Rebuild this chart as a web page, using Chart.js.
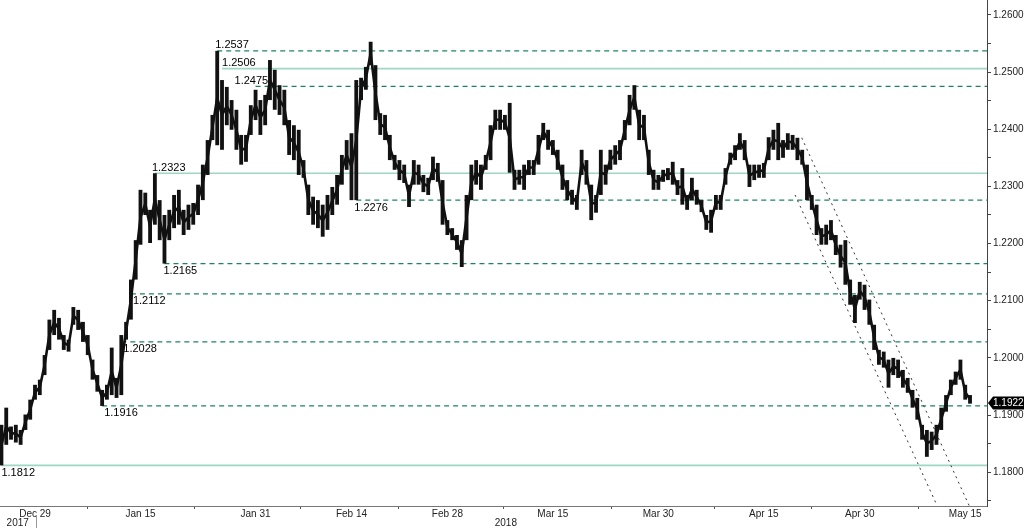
<!DOCTYPE html>
<html>
<head>
<meta charset="utf-8">
<script src="https://cdn.jsdelivr.net/npm/chart.js@4.4.1/dist/chart.umd.min.js"></script>
<style>
  html, body { margin: 0; padding: 0; background: #fff; }
</style>
</head>
<body>
<canvas id="grafica" width="1024" height="528"></canvas>
<script>
// Serie EUR/USD: barras máximo/mínimo cada media sesión (eje = sesiones desde el 29 dic)
const inicioSesion = -3.5;
const pasoSesion = 0.5;

const maximos = [
    1.1883, 1.1913, 1.1880, 1.1883, 1.1874, 1.1901, 1.1927, 1.1953, 1.1962, 1.2005,
    1.2067, 1.2084, 1.2070, 1.2040, 1.2032, 1.2089, 1.2084, 1.2063, 1.2040, 1.1997,
    1.1970, 1.1944, 1.1953, 1.2018, 1.1965, 1.2040, 1.2063, 1.2137, 1.2206, 1.2294,
    1.2289, 1.2259, 1.2323, 1.2276, 1.2250, 1.2259, 1.2285, 1.2294, 1.2259, 1.2268,
    1.2271, 1.2303, 1.2338, 1.2381, 1.2425, 1.2537, 1.2486, 1.2474, 1.2451, 1.2434,
    1.2390, 1.2390, 1.2442, 1.2469, 1.2451, 1.2460, 1.2521, 1.2504, 1.2477, 1.2469,
    1.2416, 1.2407, 1.2399, 1.2346, 1.2303, 1.2282, 1.2276, 1.2268, 1.2285, 1.2299,
    1.2320, 1.2355, 1.2381, 1.2393, 1.2486, 1.2490, 1.2509, 1.2553, 1.2512, 1.2428,
    1.2425, 1.2390, 1.2355, 1.2346, 1.2338, 1.2303, 1.2346, 1.2338, 1.2320, 1.2315,
    1.2352, 1.2341, 1.2311, 1.2241, 1.2227, 1.2215, 1.2206, 1.2285, 1.2338, 1.2346,
    1.2338, 1.2355, 1.2407, 1.2434, 1.2434, 1.2425, 1.2446, 1.2329, 1.2329, 1.2338,
    1.2346, 1.2346, 1.2390, 1.2411, 1.2399, 1.2381, 1.2364, 1.2338, 1.2311, 1.2294,
    1.2285, 1.2364, 1.2346, 1.2303, 1.2285, 1.2364, 1.2338, 1.2364, 1.2372, 1.2381,
    1.2416, 1.2460, 1.2477, 1.2434, 1.2425, 1.2364, 1.2329, 1.2320, 1.2329, 1.2332,
    1.2343, 1.2311, 1.2332, 1.2285, 1.2315, 1.2294, 1.2276, 1.2250, 1.2259, 1.2285,
    1.2285, 1.2332, 1.2359, 1.2372, 1.2393, 1.2381, 1.2338, 1.2338, 1.2338, 1.2341,
    1.2386, 1.2399, 1.2411, 1.2381, 1.2393, 1.2390, 1.2385, 1.2364, 1.2338, 1.2285,
    1.2268, 1.2227, 1.2233, 1.2241, 1.2215, 1.2198, 1.2206, 1.2137, 1.2110, 1.2133,
    1.2128, 1.2102, 1.2058, 1.2014, 1.2011, 1.1997, 1.2000, 1.1997, 1.1979, 1.1965,
    1.1944, 1.1930, 1.1883, 1.1874, 1.1871, 1.1883, 1.1913, 1.1935, 1.1962, 1.1976,
    1.1997, 1.1953, 1.1935
];

const minimos = [
    1.1812, 1.1848, 1.1857, 1.1852, 1.1848, 1.1874, 1.1892, 1.1927, 1.1935, 1.1970,
    1.2014, 1.2040, 1.2032, 1.2014, 1.2011, 1.2058, 1.2049, 1.2028, 1.2005, 1.1962,
    1.1941, 1.1916, 1.1927, 1.1935, 1.1930, 1.1935, 1.2032, 1.2067, 1.2137, 1.2198,
    1.2250, 1.2201, 1.2233, 1.2206, 1.2165, 1.2206, 1.2227, 1.2233, 1.2215, 1.2224,
    1.2233, 1.2250, 1.2276, 1.2320, 1.2381, 1.2372, 1.2364, 1.2407, 1.2399, 1.2364,
    1.2338, 1.2343, 1.2390, 1.2416, 1.2390, 1.2407, 1.2451, 1.2434, 1.2425, 1.2407,
    1.2355, 1.2346, 1.2320, 1.2315, 1.2250, 1.2233, 1.2227, 1.2212, 1.2224, 1.2250,
    1.2268, 1.2303, 1.2329, 1.2276, 1.2276, 1.2451, 1.2469, 1.2512, 1.2416, 1.2390,
    1.2381, 1.2346, 1.2329, 1.2311, 1.2306, 1.2264, 1.2303, 1.2303, 1.2290, 1.2285,
    1.2311, 1.2308, 1.2233, 1.2215, 1.2206, 1.2189, 1.2159, 1.2206, 1.2276, 1.2303,
    1.2294, 1.2329, 1.2346, 1.2399, 1.2399, 1.2399, 1.2324, 1.2294, 1.2303, 1.2294,
    1.2320, 1.2320, 1.2338, 1.2381, 1.2364, 1.2355, 1.2329, 1.2294, 1.2276, 1.2268,
    1.2259, 1.2320, 1.2303, 1.2241, 1.2254, 1.2285, 1.2303, 1.2329, 1.2338, 1.2346,
    1.2381, 1.2407, 1.2434, 1.2381, 1.2381, 1.2320, 1.2294, 1.2294, 1.2308, 1.2311,
    1.2303, 1.2285, 1.2268, 1.2259, 1.2276, 1.2268, 1.2255, 1.2224, 1.2219, 1.2259,
    1.2259, 1.2303, 1.2338, 1.2346, 1.2364, 1.2346, 1.2299, 1.2311, 1.2315, 1.2315,
    1.2346, 1.2364, 1.2346, 1.2350, 1.2364, 1.2364, 1.2346, 1.2338, 1.2276, 1.2259,
    1.2215, 1.2198, 1.2198, 1.2206, 1.2180, 1.2158, 1.2128, 1.2093, 1.2061, 1.2102,
    1.2084, 1.2058, 1.2014, 1.1988, 1.1983, 1.1948, 1.1970, 1.1965, 1.1948, 1.1939,
    1.1913, 1.1892, 1.1857, 1.1827, 1.1839, 1.1848, 1.1874, 1.1906, 1.1935, 1.1953,
    1.1962, 1.1927, 1.1920
];

const ultimoPrecio = 1.1922;

// Niveles marcados (valor y sesión desde la que se dibujan)
const nivelesValor = [1.2537, 1.2506, 1.2475, 1.2323, 1.2276, 1.2165, 1.2112, 1.2028, 1.1916, 1.1812];
const nivelesDesde = [19, 19.5, 23, 12.5, 33.5, 13.5, 10, 9, 7, -3.5];

// Canal bajista (dos rectas punteadas)
const canalSupDias = [79.95, 97.4];
const canalSupValores = [1.2385, 1.1742];
const canalInfDias = [79.25, 94.06];
const canalInfValores = [1.2285, 1.1742];

// Eje X
const diasEtiqueta = [0, 11, 23, 33, 43, 54, 65, 76, 86, 97];
const textosEtiqueta = ['Dec 29', 'Jan 15', 'Jan 31', 'Feb 14', 'Feb 28', 'Mar 15', 'Mar 30', 'Apr 15', 'Apr 30', 'May 15'];
const diasMarca = [5.5, 16.6, 27.7, 37.9, 48.9, 60.1, 70.9, 81, 92.1];
const aniosDia = [-1.8, 49.1];
const aniosTexto = ['2017', '2018'];
const diaCambioAnio = 0.1;

// Eje Y
const ticksPrecio = [1.1750, 1.1800, 1.1850, 1.1900, 1.1950, 1.2000, 1.2050, 1.2100, 1.2150,
    1.2200, 1.2250, 1.2300, 1.2350, 1.2400, 1.2450, 1.2500, 1.2550, 1.2600];

const ejeXMin = -3.65;
const ejeXMax = 99.27;
const ejeYMin = 1.1741;
const ejeYMax = 1.2626;

// ---- estilos ----
const nivelesSolidos = [1.2506, 1.2323, 1.1812];
const colorDiscontinuo = '#1d8463';
const colorSolido = '#9fd6c6';
const etiquetaArriba = [true, true, true, true, false, false, false, false, false, false];
const etiquetaDx = [-2, 0, -21, -3, -2, -1, 2, 2, 2, 0];
const fuente = '"Liberation Sans", Arial, sans-serif';

const datasetsNiveles = nivelesValor.map((v, i) => {
    const solido = nivelesSolidos.includes(v);
    return {
        type: 'line',
        data: [{ x: nivelesDesde[i], y: v }, { x: ejeXMax, y: v }],
        borderColor: solido ? colorSolido : colorDiscontinuo,
        borderWidth: solido ? 1.6 : 1.2,
        borderDash: solido ? [] : [5, 4],
        pointRadius: 0,
        order: 5
    };
});

const datasetCanal = (dias, valores) => ({
    type: 'line',
    data: dias.map((d, i) => ({ x: d, y: valores[i] })),
    borderColor: '#333',
    borderWidth: 1,
    borderDash: [2, 4],
    pointRadius: 0,
    order: 4
});

const barras = maximos.map((h, i) => ({ x: inicioSesion + i * pasoSesion, y: [minimos[i], h] }));
// línea que une los puntos medios de cada barra
const medios = maximos.map((h, i) => ({ x: inicioSesion + i * pasoSesion, y: (h + minimos[i]) / 2 }));

// Textos de niveles, años y etiqueta del último precio
const pluginTextos = {
    id: 'textos',
    afterDatasetsDraw(chart) {
        const { ctx, scales } = chart;
        ctx.save();
        ctx.font = '11px ' + fuente;
        ctx.fillStyle = '#000';
        ctx.textAlign = 'left';
        nivelesValor.forEach((v, i) => {
            const x = scales.x.getPixelForValue(nivelesDesde[i]) + etiquetaDx[i];
            const y = scales.y.getPixelForValue(v);
            if (etiquetaArriba[i]) {
                ctx.textBaseline = 'bottom';
                ctx.fillText(v.toFixed(4), x, y);
            } else {
                ctx.textBaseline = 'top';
                ctx.fillText(v.toFixed(4), x, y + 2);
            }
        });
        ctx.restore();
    },
    afterDraw(chart) {
        const { ctx, scales, chartArea } = chart;
        ctx.save();
        // años
        ctx.font = '10px ' + fuente;
        ctx.fillStyle = '#222';
        ctx.textAlign = 'center';
        ctx.textBaseline = 'middle';
        aniosTexto.forEach((t, i) => {
            ctx.fillText(t, scales.x.getPixelForValue(aniosDia[i]), chartArea.bottom + 17);
        });
        ctx.strokeStyle = '#999';
        ctx.lineWidth = 1;
        const xs = Math.round(scales.x.getPixelForValue(diaCambioAnio)) + 0.5;
        ctx.beginPath();
        ctx.moveTo(xs, chartArea.bottom + 10);
        ctx.lineTo(xs, 528);
        ctx.stroke();

        // último precio
        const y = Math.round(scales.y.getPixelForValue(ultimoPrecio));
        const x0 = chartArea.right + 1;
        ctx.fillStyle = '#000';
        ctx.beginPath();
        ctx.moveTo(x0, y);
        ctx.lineTo(x0 + 5, y - 6.5);
        ctx.lineTo(1024, y - 6.5);
        ctx.lineTo(1024, y + 6.5);
        ctx.lineTo(x0 + 5, y + 6.5);
        ctx.closePath();
        ctx.fill();
        ctx.fillStyle = '#fff';
        ctx.textAlign = 'left';
        ctx.fillText(ultimoPrecio.toFixed(4), x0 + 5, y + 0.5);
        ctx.restore();
    }
};

const ctx = document.getElementById('grafica').getContext('2d');

new Chart(ctx, {
    type: 'bar',
    data: {
        datasets: [
            ...datasetsNiveles,
            datasetCanal(canalSupDias, canalSupValores),
            datasetCanal(canalInfDias, canalInfValores),
            {
                type: 'line',
                data: medios,
                borderColor: '#111',
                borderWidth: 2.6,
                pointRadius: 0,
                order: 2
            },
            {
                type: 'bar',
                data: barras,
                backgroundColor: '#111',
                barPercentage: 0.8,
                categoryPercentage: 1,
                grouped: false,
                order: 1
            }
        ]
    },
    options: {
        responsive: false,
        devicePixelRatio: 1,
        animation: false,
        layout: { padding: 0 },
        plugins: { legend: { display: false }, tooltip: { enabled: false } },
        scales: {
            x: {
                type: 'linear',
                min: ejeXMin,
                max: ejeXMax,
                offset: false,
                grid: {
                    offset: false,
                    drawOnChartArea: false,
                    tickLength: 3,
                    tickColor: (c) => (c.index % 2 === 1 ? '#555' : 'rgba(0,0,0,0)')
                },
                border: { color: '#777' },
                afterBuildTicks: (scale) => {
                    const t = [];
                    diasEtiqueta.forEach((d, i) => {
                        t.push({ value: d });
                        if (i < diasMarca.length) t.push({ value: diasMarca[i] });
                    });
                    scale.ticks = t;
                },
                afterFit: (scale) => { scale.height = 22; },
                ticks: {
                    autoSkip: false,
                    maxRotation: 0,
                    padding: -1,
                    color: '#222',
                    font: { family: fuente, size: 10 },
                    callback: (v, i) => (i % 2 === 0 ? textosEtiqueta[i / 2] : '')
                }
            },
            y: {
                position: 'right',
                min: ejeYMin,
                max: ejeYMax,
                grid: { drawOnChartArea: false, tickLength: 4, tickColor: '#444' },
                border: { color: '#444' },
                afterBuildTicks: (scale) => {
                    scale.ticks = ticksPrecio.map((v) => ({ value: v }));
                },
                afterFit: (scale) => {
                    scale.width = 37;
                    scale.paddingTop = 0;
                    scale.paddingBottom = 0;
                },
                ticks: {
                    padding: 2,
                    color: '#222',
                    font: { family: fuente, size: 10 },
                    callback: (v, i) => (i % 2 === 1 ? v.toFixed(4) : '')
                }
            }
        }
    },
    plugins: [pluginTextos]
});
</script>
</body>
</html>
